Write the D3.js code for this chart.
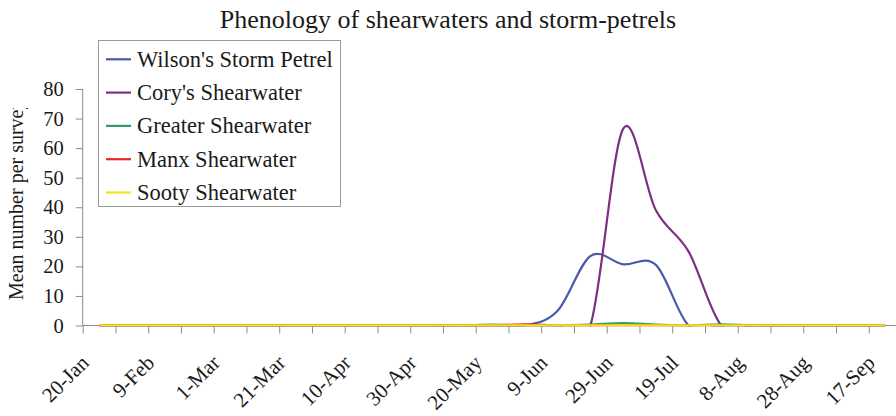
<!DOCTYPE html>
<html>
<head>
<meta charset="utf-8">
<script src="https://cdn.jsdelivr.net/npm/d3@7"></script>
<style>
  body { margin: 0; background: #fff; }
  text { font-family: "Liberation Serif", "Times New Roman", serif; fill: #1a1a1a; }
</style>
</head>
<body>
<script>
// categories, one every 10 days
var dates = ["20-Jan","30-Jan","9-Feb","19-Feb","1-Mar","11-Mar","21-Mar","31-Mar","10-Apr","20-Apr",
  "30-Apr","10-May","20-May","30-May","9-Jun","19-Jun","29-Jun","9-Jul","19-Jul","29-Jul",
  "8-Aug","18-Aug","28-Aug","7-Sep","17-Sep"];

// mean number per survey
var wilsons = [0,0,0,0,0,0,0,0,0,0, 0,0,0,0,5,23.5,20.7,20.5,0,0, 0,0,0,0,0];
var corys   = [0,0,0,0,0,0,0,0,0,0, 0,0,0,0,0,0,66.5,39,25,0, 0,0,0,0,0];
var greater = [0,0,0,0,0,0,0,0,0,0, 0,0,0.3,0,0,0.3,0.8,0.3,0,0.4, 0,0,0,0,0];
var manx    = [0,0,0,0,0,0,0,0,0,0, 0,0,0,0.4,0,0,0,0,0,0, 0,0,0,0,0];
var sooty   = [0,0,0,0,0,0,0,0,0,0, 0,0,0,0,0,0,0,0,0,0, 0,0,0,0,0];

var seriesNames = ["Wilson's Storm Petrel","Cory's Shearwater","Greater Shearwater","Manx Shearwater","Sooty Shearwater"];
var yTicks = [0,10,20,30,40,50,60,70,80];

var series = [
  {name: seriesNames[0], values: wilsons, color: "#4a5aa8"},
  {name: seriesNames[1], values: corys,   color: "#7e2e84"},
  {name: seriesNames[2], values: greater, color: "#2f9e6a"},
  {name: seriesNames[3], values: manx,    color: "#e8262a"},
  {name: seriesNames[4], values: sooty,   color: "#f2e21e"}
];

var width = 896, height = 416;
var plot = {left: 82.7, right: 901.5, top: 89, bottom: 325.5};

var svg = d3.select("body").append("svg")
  .attr("width", width)
  .attr("height", height);

// scales
var x = d3.scalePoint()
  .domain(dates)
  .range([plot.left, plot.right])
  .padding(0.5);

var xEdges = d3.scaleLinear()
  .domain([0, dates.length])
  .range([plot.left, plot.right]);

var y = d3.scaleLinear()
  .domain([0, 80])
  .range([plot.bottom, plot.top]);

// title
svg.append("text")
  .attr("x", 448)
  .attr("y", 28)
  .attr("text-anchor", "middle")
  .style("font-size", "26px")
  .text("Phenology of shearwaters and storm-petrels");

// y axis title, cut off at the top like the original
svg.append("clipPath").attr("id", "ytitle-clip")
  .append("rect").attr("x", 0).attr("y", 108).attr("width", 60).attr("height", 300);

svg.append("g")
  .attr("clip-path", "url(#ytitle-clip)")
  .append("text")
  .attr("transform", "translate(23,300) rotate(-90)")
  .attr("text-anchor", "start")
  .style("font-size", "20px")
  .text("Mean number per survey");

// y axis
var yAxis = svg.append("g")
  .attr("transform", "translate(" + plot.left + ",0)")
  .call(d3.axisLeft(y).tickValues(yTicks).tickSize(7).tickPadding(12).tickFormat(d3.format("d")));
yAxis.select(".domain").attr("stroke", "#8c8c8c").attr("d", "M0," + plot.top + "V" + plot.bottom);
yAxis.selectAll(".tick line").attr("stroke", "#8c8c8c");
yAxis.selectAll(".tick text").style("font-size", "20.5px").attr("fill", "#1a1a1a")
  .style("font-family", "Liberation Serif, serif");

// x axis: ticks between categories
var xTickAxis = svg.append("g")
  .attr("transform", "translate(0," + plot.bottom + ")")
  .call(d3.axisBottom(xEdges).tickValues(d3.range(dates.length + 1)).tickSize(8).tickFormat(""));
xTickAxis.select(".domain").attr("stroke", "#8c8c8c")
  .attr("d", "M" + plot.left + ",0H" + plot.right);
xTickAxis.selectAll(".tick line").attr("stroke", "#8c8c8c");

// x labels, every second category
svg.append("g")
  .selectAll("text")
  .data(dates.filter(function(d, i) { return i % 2 === 0; }))
  .enter().append("text")
  .attr("transform", function(d) { return "translate(" + (x(d) - 9) + ",364) rotate(-45)"; })
  .attr("text-anchor", "end")
  .style("font-size", "21px")
  .text(function(d) { return d; });

// lines, clipped to the plot area
svg.append("clipPath").attr("id", "plot-clip")
  .append("rect")
  .attr("x", plot.left).attr("y", plot.top - 5)
  .attr("width", plot.right - plot.left).attr("height", plot.bottom - plot.top + 6);

var line = d3.line()
  .x(function(d, i) { return x(dates[i]); })
  .y(function(d) { return y(d); })
  .curve(d3.curveCardinal.tension(0));

svg.append("g")
  .attr("clip-path", "url(#plot-clip)")
  .selectAll("path")
  .data(series)
  .enter().append("path")
  .attr("d", function(s) { return line(s.values); })
  .attr("fill", "none")
  .attr("stroke", function(s) { return s.color; })
  .attr("stroke-width", function(s, i) { return i === 4 ? 2.6 : 2.2; })
  .attr("stroke-linejoin", "round");

// legend
var legend = svg.append("g");
legend.append("rect")
  .attr("x", 98.5).attr("y", 40.5)
  .attr("width", 242).attr("height", 166)
  .attr("fill", "#fff")
  .attr("stroke", "#9a9a9a");

var rows = legend.selectAll("g.row")
  .data(series)
  .enter().append("g")
  .attr("class", "row")
  .attr("transform", function(s, i) { return "translate(0," + (59.3 + i * 33.3) + ")"; });

rows.append("line")
  .attr("x1", 106).attr("x2", 131)
  .attr("stroke", function(s) { return s.color; })
  .attr("stroke-width", 2.2);

rows.append("text")
  .attr("x", 137)
  .attr("y", 7.5)
  .style("font-size", "22.5px")
  .text(function(s) { return s.name; });
</script>
</body>
</html>
